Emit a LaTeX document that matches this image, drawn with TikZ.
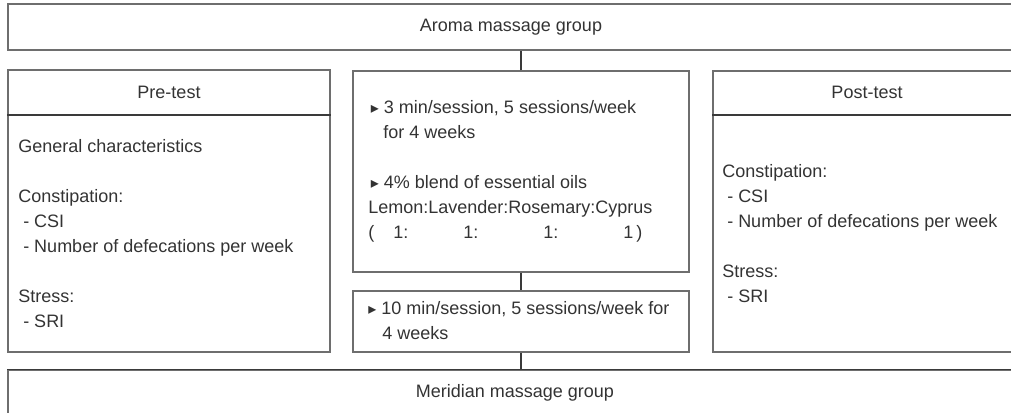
\documentclass[tikz,border=0pt]{standalone}
\usepackage{fontspec}
\setmainfont{Liberation Sans}
\newfontfamily\symfont{DejaVu Sans}
\usepackage{xcolor}
\usepackage{tikz}
\usetikzlibrary{positioning,calc,fit}
\definecolor{frame}{HTML}{6E6E6E}
\definecolor{bar}  {HTML}{3A3A3A}
\definecolor{ink}  {HTML}{333333}
\newcommand\tri{{\symfont\fontsize{12}{12}\selectfont▸}}

\begin{document}
\begin{tikzpicture}[x=0.75pt,y=-0.75pt,
  font=\fontsize{13.5}{18.75}\selectfont,
  pane/.style={draw=frame,line width=1pt,inner sep=0pt},
  hd/.style={color=ink,inner sep=0pt},
  body/.style={color=ink,align=left,anchor=west,inner sep=0pt},
  bar/.style={color=bar,line width=1.6pt},
  ln/.style={color=bar,line width=0.9pt}]
  \useasboundingbox (0,0) rectangle (1011,413);

  % group rows
  \node[pane,fit={(8,4) (1014,50)}] (aroma) {};
  \node[hd] (aromatx) at (aroma.center) {Aroma massage group};
  \node[pane,fit={(8,370) (1022,416)}] (mer) {};
  \draw[ln] (mer.north west) -- (mer.north east);
  \node[hd] (mertx) at (mer.center) {Meridian massage group};

  % pre-test
  \node[pane,fit={(8,70) (330,352)}] (pre) {};
  \node[hd] (prehd) at ($(pre.north)+(0,23)$) {Pre-test};
  \draw[bar] ($(pre.north west)+(0,46)$) -- ($(pre.north east)+(0,46)$);
  \node[body] (prebd) at (18,234) {General characteristics\\[18.75pt]
    Constipation:\\
    \hspace{3.75pt}- CSI\\
    \hspace{3.75pt}- Number of defecations per week\\[18.75pt]
    Stress:\\
    \hspace{3.75pt}- SRI};

  % intervention
  \node[pane,fit={(353,71) (689,272)}] (ctop) {};
  \node[body] (ctoptx) at (368,171) {\hspace{2pt}\tri\ 3 min/session, 5 sessions/week\\
    \hspace{11.25pt}for 4 weeks\\[18.75pt]
    \hspace{2pt}\tri\ 4\% blend of essential oils\\
    Lemon:Lavender:Rosemary:Cyprus\\
    \makebox[18.75pt][l]{(}\makebox[52.5pt][l]{1:}\makebox[60pt][l]{1:}\makebox[60pt][l]{1:}1\,)};
  \node[pane,fit={(353,291) (689,352)}] (cbot) {};
  \node[body] (cbottx) at (368,321) {\tri\ 10 min/session, 5 sessions/week for\\
    \hspace{10.5pt}4 weeks};

  % post-test
  \node[pane,fit={(713,71) (1021,352)}] (post) {};
  \node[hd] (posthd) at ($(post.north)+(0,22)$) {Post-test};
  \draw[bar] ($(post.north west)+(0,45)$) -- ($(post.north east)+(0,45)$);
  \node[body] (postbd) at (722,234) {Constipation:\\
    \hspace{3.75pt}- CSI\\
    \hspace{3.75pt}- Number of defecations per week\\[18.75pt]
    Stress:\\
    \hspace{3.75pt}- SRI};

  \draw[ln] (ctop.north) -- (ctop.north |- aroma.south);
  \draw[ln] (ctop.south) -- (cbot.north);
  \draw[ln] (cbot.south) -- (cbot.south |- mer.north);
\end{tikzpicture}
\end{document}
